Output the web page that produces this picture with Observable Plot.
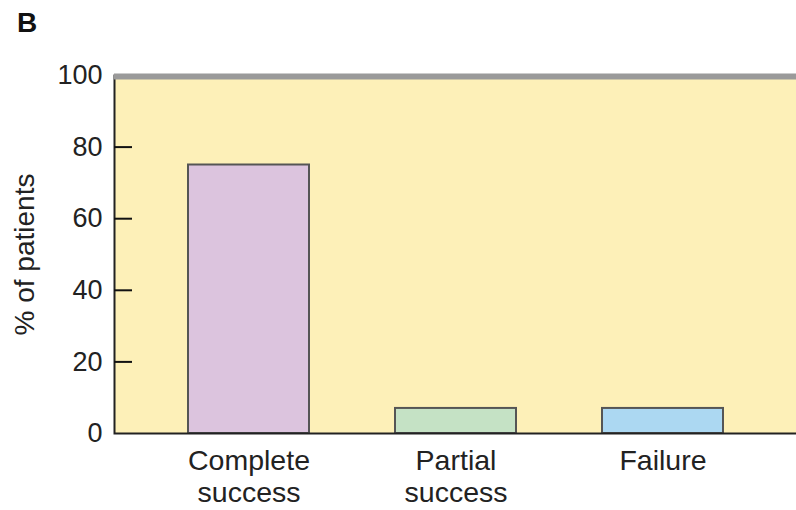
<!DOCTYPE html>
<html>
<head>
<meta charset="utf-8">
<script src="https://cdn.jsdelivr.net/npm/d3@7"></script>
<script src="https://cdn.jsdelivr.net/npm/@observablehq/plot@0.6"></script>
<style>
  body { margin: 0; background: #fff; font-family: "Liberation Sans", Arial, sans-serif; }
  #title { height: 40px; font-weight: bold; font-size: 28px; line-height: 46px; padding-left: 17px; color: #111; }
</style>
</head>
<body>
<div id="title">B</div>
<div id="chart"></div>
<script>
const categories = ["Complete\nsuccess", "Partial\nsuccess", "Failure"];
const values = [75, 7, 7];
const barColors = ["#dcc4de", "#c5e2c5", "#acd8f2"];
const yTicks = [0, 20, 40, 60, 80, 100];
const innerTicks = [20, 40, 60, 80];
const yLabel = "% of patients";

const data = categories.map((c, i) => ({category: c, value: values[i], color: barColors[i]}));

const tickLen = 18;
const W = 796, ML = 114, MR = 0;

const chart = Plot.plot({
  width: W,
  height: 470,
  marginTop: 35,
  marginBottom: 77,
  marginLeft: ML,
  marginRight: MR,
  style: {fontFamily: "'Liberation Sans', Arial, sans-serif", fontSize: "27px", color: "#222", background: "#fff"},
  x: {domain: categories, paddingInner: 0.417, paddingOuter: 0.35, label: null},
  y: {domain: [0, 100], label: null},
  marks: [
    Plot.frame({fill: "#fdf0b8"}),
    Plot.barY(data, {x: "category", y: "value", fill: "color", stroke: "#555", strokeWidth: 2}),
    Plot.frame({stroke: "#222", strokeWidth: 2, insetRight: -4}),
    Plot.ruleY([100], {stroke: "#9a9a9a", strokeWidth: 6, dy: 1}),
    Plot.axisY({ticks: yTicks, tickSize: 0, tickPadding: 12, fontSize: 27, label: null}),
    Plot.ruleY(innerTicks, {insetRight: W - ML - MR - tickLen, stroke: "#111", strokeWidth: 2}),
    Plot.axisX({tickSize: 0, tickPadding: 14, lineHeight: 1.12, fontSize: 28.5, label: null}),
    Plot.text([yLabel], {frameAnchor: "left", textAnchor: "middle", dx: -89, rotate: -90, fontSize: 28, fill: "#222"})
  ]
});
document.getElementById("chart").appendChild(chart);
</script>
</body>
</html>
